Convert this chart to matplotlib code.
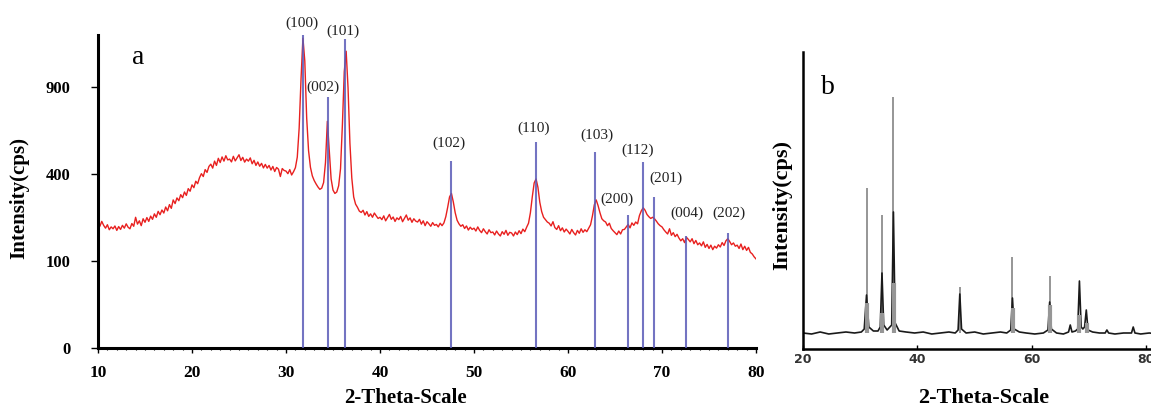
import numpy as np
import matplotlib
matplotlib.use('Agg')
import matplotlib.pyplot as plt

plt.rcParams['font.family'] = ['Liberation Serif', 'DejaVu Serif']

## ---- panel a : measured pattern (red) + reference lines (blue) ---- ##
theta_a = np.linspace(10, 80, 351)   # 0.2 deg steps
intensity_a = [
    208, 196, 212, 199, 190, 201, 185, 194, 188, 197,
    183, 195, 186, 199, 190, 204, 193, 188, 205, 196,
    226, 203, 214, 198, 221, 209, 225, 212, 230, 219,
    238, 226, 247, 235, 252, 241, 263, 249, 272, 258,
    290, 276, 298, 287, 311, 299, 322, 308, 336, 325,
    352, 340, 368, 357, 384, 402, 389, 421, 408, 436,
    447, 428, 462, 441, 476, 455, 483, 462, 489, 468,
    472, 458, 486, 463, 478, 494, 465, 481, 457, 472,
    462, 478, 449, 466, 441, 458, 437, 451, 429, 446,
    428, 441, 419, 436, 412, 431, 423, 389, 426, 417,
    414, 402, 421, 396, 411, 430, 482, 640, 960, 1270,
    1090, 700, 515, 432, 392, 371, 356, 343, 333, 338,
    362, 455, 680, 515, 378, 330, 316, 322, 348, 425,
    660, 1010, 1165, 895, 555, 382, 302, 274, 262, 248,
    243, 251, 234, 246, 229, 238, 226, 241, 231, 222,
    226, 218, 231, 214, 225, 236, 219, 227, 212, 224,
    218, 229, 211, 222, 234, 216, 224, 209, 221, 213,
    210, 219, 203, 214, 198, 211, 204, 196, 208, 199,
    202, 194, 206, 198, 207, 228, 262, 302, 316, 282,
    242, 216, 204, 196, 201, 189, 197, 184, 193, 186,
    190, 181, 194, 183, 176, 188, 179, 172, 185, 176,
    178, 169, 181, 172, 166, 179, 171, 183, 168, 177,
    175, 166, 178, 170, 182, 173, 187, 179, 193, 206,
    242, 302, 360, 378, 342, 281, 246, 226, 218, 210,
    206, 197, 211, 192, 186, 198, 182, 191, 178, 187,
    180, 172, 186, 176, 169, 183, 174, 188, 177, 185,
    179, 190, 201, 231, 271, 290, 268, 242, 221, 214,
    210, 198, 206, 189, 182, 176, 170, 181, 172, 185,
    186, 194, 202, 191, 207, 199, 210, 204, 232, 249,
    260, 251, 236, 228, 222, 226, 221, 213, 204, 198,
    194, 185, 178, 172, 188, 168, 176, 164, 171, 160,
    152, 158, 147, 162, 156, 149, 158, 144, 153, 141,
    146, 138, 149, 134, 142, 131, 140, 128, 137, 132,
    141, 135, 147, 139, 152, 158, 150, 141, 146, 137,
    140, 131, 143, 128, 137, 126, 134, 121, 117, 110,
    105]

ref_pos = [31.8, 34.45, 36.3, 47.55, 56.6, 62.9, 66.4, 68.0, 69.1, 72.6, 77.0]
ref_height = [1300, 833, 1261, 462, 561, 507, 234, 457, 301, 166, 175]
hkl = ['(100)', '(002)', '(101)', '(102)', '(110)', '(103)', '(200)',
       '(112)', '(201)', '(004)', '(202)']
hkl_x = [31.7, 33.9, 36.1, 47.3, 56.3, 63.1, 65.2, 67.4, 70.4, 72.7, 77.1]
hkl_y = [1397, 900, 1327, 555, 639, 599, 293, 518, 382, 241, 241]

## ---- panel b : pattern (black) + two reference sets (grey) ---- ##
theta_b = [20, 21.5, 23, 24.5, 26, 27.5, 29, 30.2, 30.7, 31.1, 31.5, 32.3,
           33.1, 33.5, 33.8, 34.1, 34.7, 35.5, 35.8, 36.1, 36.8, 38, 39.5,
           41, 42.5, 44, 45.5, 46.6, 47.1, 47.4, 47.7, 48.5, 50, 51.5, 53,
           54.5, 55.6, 56.3, 56.6, 56.9, 57.8, 59, 60.5, 62, 62.8, 63.1, 63.4,
           64.3, 65.5, 66.4, 66.7, 67.0, 67.6, 68.0, 68.3, 68.6, 68.9, 69.2,
           69.5, 69.8, 70.6, 71.8, 72.8, 73.1, 73.4, 74.5, 76, 77.4, 77.7,
           78.0, 79, 80.5, 82, 85]
counts_b = [16, 15, 17, 15, 16, 17, 16, 17, 20, 54, 22, 18,
            18, 22, 76, 24, 19, 24, 137, 26, 18, 17, 16,
            17, 15, 16, 17, 16, 19, 55, 20, 16, 17, 15, 16,
            17, 16, 19, 51, 20, 17, 16, 15, 16, 19, 47, 20,
            16, 15, 17, 24, 17, 18, 20, 68, 22, 20, 22,
            39, 19, 17, 16, 16, 19, 16, 15, 16, 16, 22,
            16, 15, 16, 15, 16]
thin_pos = [31.1, 33.8, 35.8, 47.4, 56.6, 63.1]
thin_height = [161, 134, 252, 62, 92, 73]
thick_pos = [31.15, 33.85, 35.85, 56.65, 63.15, 68.2, 69.6]
thick_height = [46, 36, 66, 41, 44, 34, 26]
base_b = 16

fig = plt.figure(figsize=(11.51, 4.07), dpi=100)

## a
ax = fig.add_axes([98/1151, 59/407, 658/1151, 313/407])
ax.set_yscale('function', functions=(lambda v: np.sqrt(np.clip(v, 0, None)), np.square))
ax.plot(theta_a, intensity_a, color='#e8201f', lw=1.0, zorder=2)
ax.vlines(ref_pos, 0, ref_height, color='#5b5cb8', lw=1.5, alpha=0.85,
          zorder=3, clip_on=False)
for t, x, y in zip(hkl, hkl_x, hkl_y):
    ax.text(x, y, t, ha='center', va='center', fontsize=11, color='#222222')
ax.set_xlim(10, 80)
ax.set_ylim(0, 1296)
ax.set_yticks([0, 100, 400, 900])
ax.set_xticks(range(10, 81, 10))
ax.set_xticks(range(10, 81, 1), minor=True)
for s in ['top', 'right']:
    ax.spines[s].set_visible(False)
for s in ['left', 'bottom']:
    ax.spines[s].set_linewidth(2.2)
ax.tick_params(axis='y', direction='out', length=5, width=1, pad=15, labelsize=12)
ax.tick_params(axis='x', which='major', direction='out', length=3.5, width=1,
               pad=9, labelsize=12.5)
ax.tick_params(axis='x', which='minor', direction='out', length=1.5, width=0.8)
plt.setp(ax.get_xticklabels() + ax.get_yticklabels(), fontweight='bold')
ax.set_xlabel('2-Theta-Scale', fontsize=15, fontweight='bold')
ax.xaxis.set_label_coords(0.467, -0.128)
ax.set_ylabel('Intensity(cps)', fontsize=15, fontweight='bold')
ax.yaxis.set_label_coords(-0.105, 0.48)
fig.text(138/1151, 1 - 57/407, 'a', fontsize=20, ha='center', va='center')

## b
bx = fig.add_axes([803/1151, 58/407, 372/1151, 297/407])
bx.vlines(thin_pos, base_b, thin_height, color='#969696', lw=1.4, zorder=1)
bx.plot(theta_b, counts_b, color='#1a1a1a', lw=1.2, zorder=2)
bx.vlines(thick_pos, base_b, thick_height, color='#969696', lw=3, zorder=3)
bx.set_xlim(20, 85)
bx.set_ylim(0, 297)
bx.set_yticks([])
bx.set_xticks([20, 40, 60, 80])
for s in ['top', 'right']:
    bx.spines[s].set_visible(False)
for s in ['left', 'bottom']:
    bx.spines[s].set_linewidth(1.8)
bx.tick_params(axis='x', direction='in', length=3, width=1, pad=3)
for lab in bx.get_xticklabels():
    lab.set_fontfamily('DejaVu Sans')
    lab.set_fontweight('bold')
    lab.set_fontsize(9)
    lab.set_color('#333333')
bx.set_xlabel('2-Theta-Scale', fontsize=16, fontweight='bold')
bx.xaxis.set_label_coords(0.487, -0.131)
bx.set_ylabel('Intensity(cps)', fontsize=16, fontweight='bold')
bx.yaxis.set_label_coords(-0.030, 0.485)
fig.text(828/1151, 1 - 88/407, 'b', fontsize=20, ha='center', va='center')

fig.savefig('out.png', dpi=100)
